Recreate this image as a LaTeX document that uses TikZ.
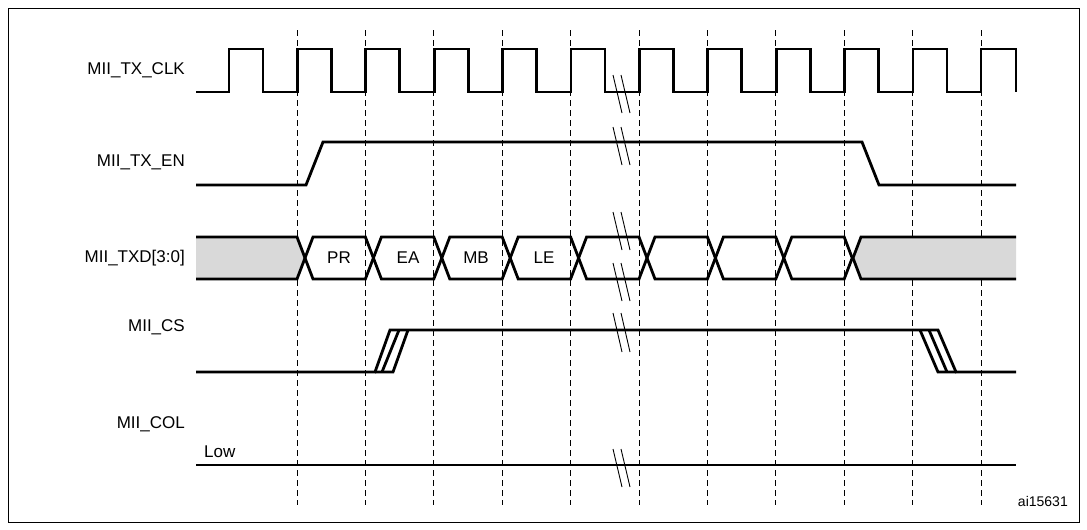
\documentclass[tikz,border=0pt]{standalone}
\usepackage{fontspec}
\setmainfont{Liberation Sans}
\begin{document}
\begin{tikzpicture}[x=1pt,y=-1pt,
  sig/.style={line width=2.8pt,line join=miter},
  lbl/.style={font=\fontsize{17}{19}\selectfont,anchor=east,inner sep=0pt},
  cell/.style={font=\fontsize{17}{19}\selectfont,inner sep=0pt},
  brk/.style={line width=0.9pt}]
\useasboundingbox (0,0) rectangle (1087,530);
\draw[line width=0.8pt] (8,8) rectangle (1079,522);
% dashed guides
\foreach \k in {0,...,10}
  \draw[line width=0.9pt,dash pattern=on 6pt off 4pt] ({297+68.4*\k},30) -- ({297+68.4*\k},505);
% labels
\node[lbl] (l1) at (185,70) {MII\_TX\_CLK};
\node[lbl] (l2) at (185,162) {MII\_TX\_EN};
\node[lbl] (l3) at (185,258) {MII\_TXD[3:0]};
\node[lbl] (l4) at (185,327) {MII\_CS};
\node[lbl] (l5) at (185,424) {MII\_COL};
\node[cell,anchor=west] (low) at (204,452) {Low};
\node[cell,anchor=east,font=\fontsize{14}{16}\selectfont] (ai) at (1068,501) {ai15631};
% clock
\draw[sig] (196,92)
  \foreach \k in {0,...,10} { -- ({229+68.4*\k},92) -- ({229+68.4*\k},49) -- ({263+68.4*\k},49) -- ({263+68.4*\k},92) }
  -- (981,92) -- (981,49) -- (1016,49) -- (1016,92);
% TX_EN
\draw[sig] (196,185) -- (306,185) -- (323,142) -- (862,142) -- (879,185) -- (1016,185);
% TXD
\fill[gray!30] (196,237) -- (297,237) -- (305,258) -- (297,279) -- (196,279) -- cycle;
\fill[gray!30] (1016,237) -- (861,237) -- (853,258) -- (861,279) -- (1016,279) -- cycle;
\draw[sig] (196,237) -- (297,237) -- (305,258) -- (297,279) -- (196,279);
\draw[sig] (1016,237) -- (861,237) -- (853,258) -- (861,279) -- (1016,279);
\foreach \i in {0,...,7}
  \draw[sig] ({305+68.4*\i},258) -- ({313+68.4*\i},237) -- ({365.4+68.4*\i},237) -- ({373.4+68.4*\i},258) -- ({365.4+68.4*\i},279) -- ({313+68.4*\i},279) -- cycle;
\node[cell] (pr) at (339,258) {PR};
\node[cell] (ea) at (408,258) {EA};
\node[cell] (mb) at (476,258) {MB};
\node[cell] (le) at (544,258) {LE};
% CS
\draw[sig] (196,372) -- (375,372) -- (390,330) -- (938,330) -- (956,372) -- (1016,372);
\draw[sig] (382,372) -- (399,330);
\draw[sig] (375,372) -- (393,372) -- (408,330);
\draw[sig] (929,330) -- (947,372);
\draw[sig] (920,330) -- (938,372) -- (956,372);
% COL
\draw[sig] (196,465) -- (1016,465);
% break marks
\foreach \ya/\yb in {75/113,127/165,212/250,263/301,313/352,449/487}{
  \draw[brk] (613,\ya) -- (622,\yb);
  \draw[brk] (621,\ya) -- (630,\yb);
}
\end{tikzpicture}
\end{document}
